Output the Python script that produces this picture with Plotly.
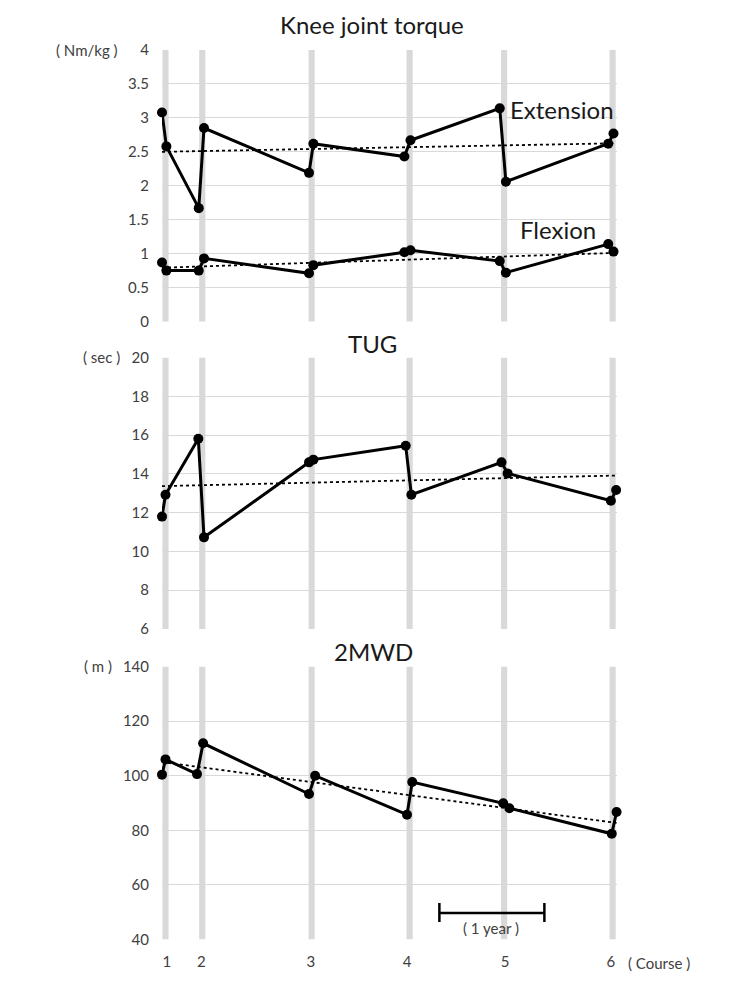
import numpy as np
import plotly.graph_objects as go

# ---------------- data ----------------
course_labels = ["1", "2", "3", "4", "5", "6"]
course_month = [0.4, 4.6, 17.1, 28.3, 39.1, 51.5]
tick_month = [0.55, 4.5, 17.0, 28.0, 39.2, 51.3]

torque_month = [0.0, 0.5, 4.2, 4.8, 16.8, 17.3, 27.7, 28.4, 38.6, 39.3, 51.0, 51.6]
extension = [3.08, 2.58, 1.67, 2.85, 2.19, 2.62, 2.43, 2.67, 3.14, 2.06, 2.62, 2.77]
flexion = [0.87, 0.75, 0.75, 0.93, 0.71, 0.83, 1.02, 1.05, 0.89, 0.72, 1.14, 1.03]

tug_month = [0.0, 0.4, 4.15, 4.8, 16.8, 17.3, 27.85, 28.5, 38.8, 39.5, 51.3, 51.9]
tug = [11.8, 12.93, 15.82, 10.73, 14.6, 14.74, 15.46, 12.93, 14.6, 14.03, 12.62, 13.17]

mwd_month = [0.0, 0.4, 4.0, 4.7, 16.8, 17.5, 28.0, 28.6, 39.0, 39.7, 51.4, 51.95]
mwd = [100.4, 106.0, 100.6, 111.9, 93.3, 100.0, 85.7, 97.7, 89.9, 88.1, 78.7, 86.7]

year_bar = [31.7, 43.7]

FONT = "Lato"
TXT = "#404040"

# page body has an 8px margin; figure sized so it fits the 750x991 window
OFF = 8
W, H = 750 - OFF, 991 - OFF


def px(x):
    return (x - OFF) / W


def py(y):
    return 1 - (y - OFF) / H


fig = go.Figure()


def add_series(x, y, xa, ya):
    fig.add_trace(go.Scatter(
        x=x, y=y, xaxis=xa, yaxis=ya, mode="lines+markers",
        line=dict(color="black", width=3),
        marker=dict(color="black", size=10),
        cliponaxis=False, showlegend=False, hoverinfo="skip"))
    xs = np.array(x, dtype=float)
    ys = np.array(y, dtype=float)
    k, b = np.polyfit(xs, ys, 1)
    xt = [xs.min(), xs.max()]
    fig.add_trace(go.Scatter(
        x=xt, y=[k * v + b for v in xt], xaxis=xa, yaxis=ya, mode="lines",
        line=dict(color="black", width=1.8, dash="dot"),
        cliponaxis=False, showlegend=False, hoverinfo="skip"))


add_series(torque_month, extension, "x", "y")
add_series(torque_month, flexion, "x", "y")
add_series(tug_month, tug, "x2", "y2")
add_series(mwd_month, mwd, "x3", "y3")

# course bands
shapes = []
for axn in ["", "2", "3"]:
    for c in course_month:
        shapes.append(dict(type="rect", xref="x" + axn, yref="y" + axn + " domain",
                           x0=c - 0.35, x1=c + 0.35, y0=0, y1=1,
                           fillcolor="#d9d9d9", line=dict(width=0), layer="below"))

# 1-year scale bar
shapes.append(dict(type="line", xref="x3", yref="paper",
                   x0=year_bar[0], x1=year_bar[1], y0=py(913), y1=py(913),
                   line=dict(color="black", width=2.5)))
for xb in year_bar:
    shapes.append(dict(type="line", xref="x3", yref="paper",
                       x0=xb, x1=xb, y0=py(903), y1=py(922),
                       line=dict(color="black", width=2.5)))

xdom = [px(162), px(617)]
xrange = [0, 52]


def yd(top, bottom):
    return [py(bottom), py(top)]


common_x = dict(range=xrange, domain=xdom, showgrid=False, zeroline=False,
                showline=False, ticks="", fixedrange=True, automargin=False)
common_y = dict(showgrid=True, gridcolor="#d9d9d9", gridwidth=1, zeroline=False,
                showline=False, ticks="", ticklabelstandoff=12, automargin=False,
                tickfont=dict(family=FONT, size=15, color=TXT))

ann = []


def text(x, y, s, size, color=TXT, xanchor="center"):
    ann.append(dict(x=px(x), y=py(y), xref="paper", yref="paper", text=s,
                    showarrow=False, xanchor=xanchor, yanchor="middle",
                    font=dict(family=FONT, size=size, color=color)))


text(372, 25, "Knee joint torque", 24, "#1a1a1a")
text(372, 344, "TUG", 24, "#1a1a1a")
text(373, 651, "2MWD", 24, "#1a1a1a")
text(87, 50, "( Nm/kg )", 15)
text(102, 357, "( sec )", 15)
text(98, 666, "( m )", 15)
text(562, 109, "Extension", 24, "#1a1a1a")
text(558, 230, "Flexion", 24, "#1a1a1a")
text(491, 928, "( 1 year )", 15)
text(659, 963, "( Course )", 15)

fig.update_layout(
    width=W, height=H, margin=dict(l=0, r=0, t=0, b=0, pad=0, autoexpand=False),
    paper_bgcolor="white", plot_bgcolor="white",
    font=dict(family=FONT, color=TXT),
    xaxis=dict(common_x, anchor="y", showticklabels=False),
    xaxis2=dict(common_x, anchor="y2", showticklabels=False),
    xaxis3=dict(common_x, anchor="y3", showticklabels=True,
                tickvals=tick_month, ticktext=course_labels, ticklabelstandoff=12,
                tickfont=dict(family=FONT, size=15, color=TXT)),
    yaxis=dict(common_y, domain=yd(50, 321.5), range=[0, 4], dtick=0.5, anchor="x"),
    yaxis2=dict(common_y, domain=yd(357.7, 629), range=[6, 20], dtick=2, anchor="x2"),
    yaxis3=dict(common_y, domain=yd(666.7, 939.3), range=[40, 140], dtick=20, anchor="x3"),
    shapes=shapes, annotations=ann,
)

fig.write_html("out.html")
